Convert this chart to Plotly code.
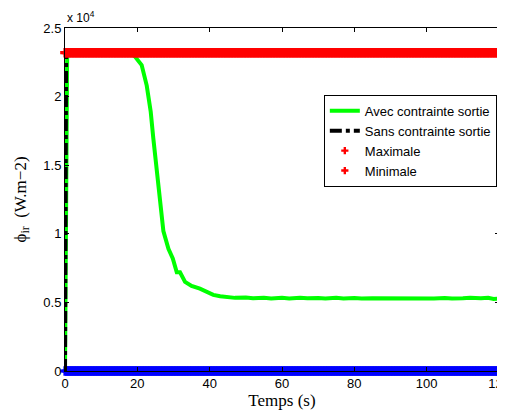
import plotly.graph_objects as go
import numpy as np

# Data (values in W.m-2, axis shown x 10^4)
t_avec = [0, 0.3, 0.6, 1, 5, 10, 15, 18, 19.4, 21.2, 22.6, 23.7, 24.4, 25.2, 25.8, 26.5,
          27.2, 28.6, 29.8, 30.9, 31.8, 33.2, 35, 37.3, 39.6, 41, 42.9, 45, 47, 50, 52, 55,
          57, 60, 62, 65, 67, 70, 72, 75, 77, 80, 82, 85, 87, 90, 92, 95, 97, 100, 102,
          105, 107, 110, 112, 115, 117, 118.5, 120]
v_avec = [0, 12000, 23200, 23200, 23200, 23200, 23200, 23200, 22900, 22300, 20800, 18900,
          17000, 15000, 13100, 11600, 10200, 8900, 8200, 7200, 7200, 6500, 6200, 6000,
          5700, 5550, 5450, 5380, 5330, 5360, 5300, 5340, 5290, 5330, 5290, 5340, 5300,
          5320, 5280, 5330, 5290, 5320, 5280, 5310, 5300, 5340, 5290, 5320, 5270, 5310,
          5290, 5320, 5280, 5300, 5330, 5300, 5340, 5250, 5280]

t_sans = [0, 0.3, 120]
v_sans = [0, 23200, 23200]

t_marks = list(np.linspace(0, 120, 301))
v_max = [23200] * len(t_marks)
v_min = [0] * len(t_marks)

ytick_vals = [0, 5000, 10000, 15000, 20000, 25000]
ytick_text = ['0', '0.5', '1', '1.5', '2', '2.5']
xtick_vals = [0, 20, 40, 60, 80, 100, 120]

fig = go.Figure()

fig.add_trace(go.Scatter(x=t_marks, y=v_min, mode='markers', showlegend=False,
                         marker=dict(symbol='cross', size=8, color='#0000ff'),
                         cliponaxis=False, hoverinfo='skip'))
fig.add_trace(go.Scatter(x=t_avec, y=v_avec, mode='lines', name='Avec contrainte sortie',
                         line=dict(color='#00ff00', width=4)))
fig.add_trace(go.Scatter(x=t_sans, y=v_sans, mode='lines', name='Sans contrainte sortie',
                         line=dict(color='black', width=4, dash='dashdot')))
fig.add_trace(go.Scatter(x=t_marks, y=v_max, mode='markers', showlegend=False,
                         marker=dict(symbol='cross', size=8, color='#ff0000'),
                         cliponaxis=False))
fig.add_trace(go.Scatter(x=[None], y=[None], mode='markers', name='Maximale',
                         marker=dict(symbol='cross', size=6, color='#ff0000')))
fig.add_trace(go.Scatter(x=[None], y=[None], mode='markers', name='Minimale',
                         marker=dict(symbol='cross', size=6, color='#ff0000')))

axis_common = dict(showline=True, linecolor='black', linewidth=1, mirror='ticks',
                   ticks='inside', ticklen=4, tickcolor='black', showgrid=False,
                   zeroline=False, automargin=False, ticklabeloverflow='allow',
                   tickfont=dict(family='Liberation Sans, Arial', size=13, color='black'))

fig.update_xaxes(range=[0, 120], tickvals=xtick_vals,
                 title=dict(text='Temps (s)', standoff=2,
                            font=dict(family='Liberation Serif, Times New Roman', size=17, color='black')),
                 **axis_common)
fig.update_yaxes(range=[0, 25000], tickvals=ytick_vals, ticktext=ytick_text,
                 title=dict(text='ϕ<sub>ir</sub>  (W.m−2)', standoff=12,
                            font=dict(family='Liberation Serif, Times New Roman', size=17, color='black')),
                 **axis_common)

fig.add_annotation(text='x 10<sup>4</sup>', xref='paper', yref='paper', x=0, y=1,
                   xanchor='left', yanchor='bottom', showarrow=False, yshift=1,
                   font=dict(family='Liberation Sans, Arial', size=12, color='black'))

# page body has an 8px margin: figure is sized/offset accordingly
fig.update_layout(
    width=497, height=404,
    margin=dict(l=57, r=6, t=20, b=41),
    paper_bgcolor='white', plot_bgcolor='white',
    legend=dict(x=0.995, y=0.805, xanchor='right', yanchor='top',
                bgcolor='white', bordercolor='black', borderwidth=1,
                font=dict(family='Liberation Sans, Arial', size=13, color='black'),
                tracegroupgap=0, itemwidth=30),
)

fig.write_html('out.html')
